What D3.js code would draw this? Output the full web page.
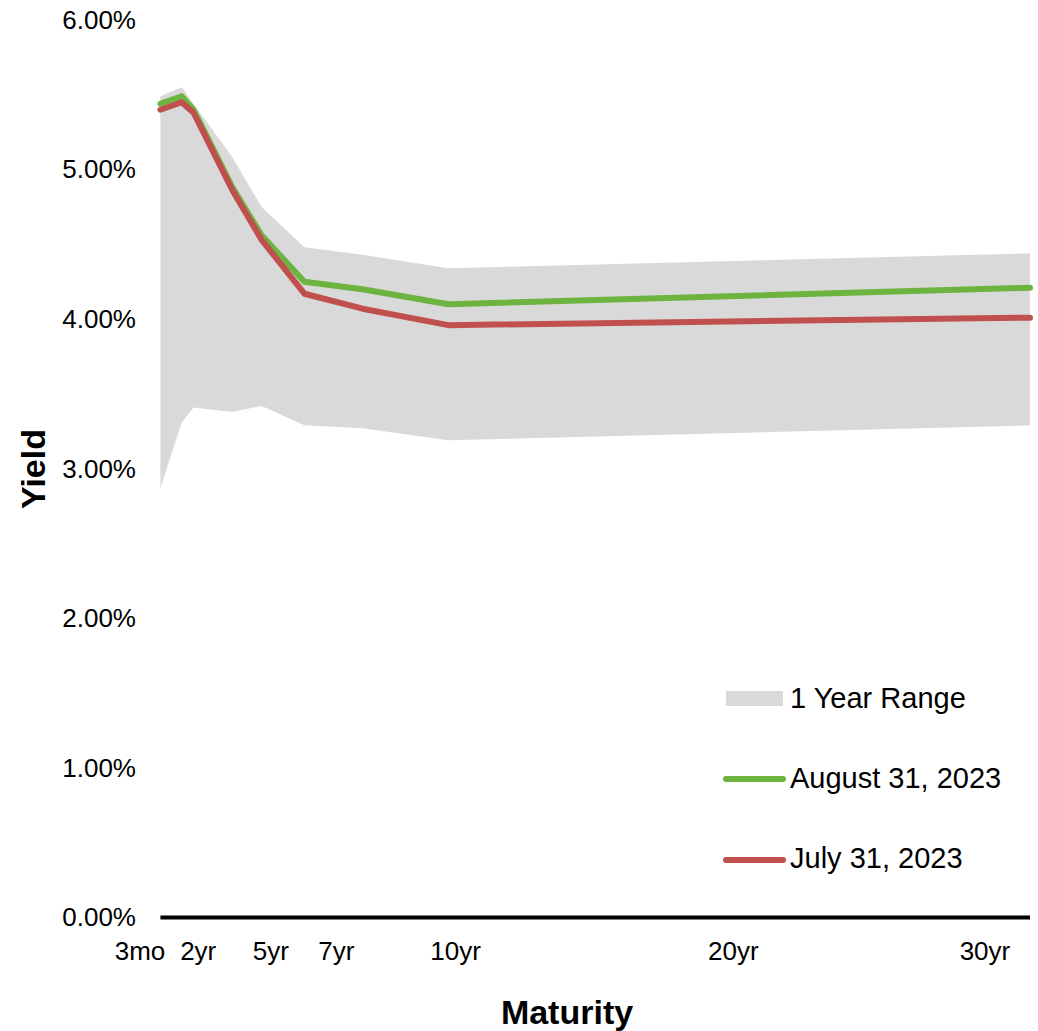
<!DOCTYPE html>
<html>
<head>
<meta charset="utf-8">
<script src="https://cdn.jsdelivr.net/npm/d3@7"></script>
<style>
  body { margin: 0; background: #fff; }
  text { font-family: Arial, "Liberation Sans", sans-serif; fill: #000; }
</style>
</head>
<body>
<svg></svg>
<script>
const size = {w: 1038, h: 1031};
const svg = d3.select('svg');

svg.attr('width', size.w)
    .attr('height', size.h);

// maturity of each curve point, in years
const maturities = [0.1, 0.83, 1.24, 2.58, 3.58, 5.05, 7.05, 10, 30];
// 1 year range, high and low yields (%)
const rangeHigh = [5.49, 5.55, 5.44, 5.08, 4.75, 4.48, 4.43, 4.34, 4.44];
const rangeLow = [2.87, 3.31, 3.41, 3.38, 3.42, 3.29, 3.27, 3.19, 3.29];
// curves (%)
const aug2023 = [5.44, 5.49, 5.40, 4.88, 4.56, 4.25, 4.20, 4.10, 4.21];
const jul2023 = [5.40, 5.45, 5.38, 4.86, 4.53, 4.17, 4.07, 3.96, 4.01];

// maturity labels and where they sit along the axis
const tickLabels = ['3mo', '2yr', '5yr', '7yr', '10yr', '20yr', '30yr'];
const tickAt = [-0.6, 1.4, 3.9, 6.15, 10.25, 19.8, 28.45];
const yTicks = [0, 1, 2, 3, 4, 5, 6];

const legendNames = ['1 Year Range', 'August 31, 2023', 'July 31, 2023'];

// scales
let x = d3.scaleLinear().domain([0, 30]).range([157.5, 1030]);
let y = d3.scaleLinear().domain([0, 6]).range([917.5, 20]);

// shaded range
let area = d3.area()
    .x((d, i) => x(maturities[i]))
    .y0((d, i) => y(rangeLow[i]))
    .y1(d => y(d));

svg.append('path')
    .datum(rangeHigh)
    .attr('d', area)
    .attr('fill', '#d9d9d9');

// curves
let line = d3.line()
    .x((d, i) => x(maturities[i]))
    .y(d => y(d));

let curves = [
    {values: aug2023, color: '#6cb33f'},
    {values: jul2023, color: '#c0504d'}
];

svg.selectAll('path.curve')
    .data(curves)
    .join('path')
    .classed('curve', true)
    .attr('d', d => line(d.values))
    .attr('fill', 'none')
    .attr('stroke', d => d.color)
    .attr('stroke-width', 6)
    .attr('stroke-linejoin', 'round')
    .attr('stroke-linecap', 'round');

// y axis labels
let yAxis = d3.axisLeft(y)
    .tickValues(yTicks)
    .tickSize(0)
    .tickPadding(0)
    .tickFormat(d => d.toFixed(2) + '%');

let yAxisG = svg.append('g')
    .attr('transform', 'translate(136,0)')
    .call(yAxis);
yAxisG.select('.domain').remove();
yAxisG.selectAll('text')
    .attr('font-size', 26)
    .attr('font-family', 'Arial, "Liberation Sans", sans-serif')
    .attr('fill', '#000');

// x axis line
svg.append('line')
    .attr('x1', x(0.1))
    .attr('x2', x(30))
    .attr('y1', y(0))
    .attr('y2', y(0))
    .attr('stroke', '#000')
    .attr('stroke-width', 4);

// x labels
svg.selectAll('text.xlab')
    .data(tickLabels)
    .join('text')
    .classed('xlab', true)
    .attr('x', (d, i) => x(tickAt[i]))
    .attr('y', 960)
    .attr('text-anchor', 'middle')
    .attr('font-size', 26)
    .text(d => d);

// axis titles
svg.append('text')
    .attr('x', 567)
    .attr('y', 1024)
    .attr('text-anchor', 'middle')
    .attr('font-size', 34)
    .attr('font-weight', 'bold')
    .text('Maturity');

svg.append('text')
    .attr('transform', 'translate(45,469) rotate(-90)')
    .attr('text-anchor', 'middle')
    .attr('font-size', 34)
    .attr('font-weight', 'bold')
    .text('Yield');

// legend
let legendG = svg.append('g').attr('transform', 'translate(726,0)');

legendG.append('rect')
    .attr('x', 0)
    .attr('y', 691)
    .attr('width', 57)
    .attr('height', 15)
    .attr('fill', '#d9d9d9');

legendG.selectAll('line')
    .data(curves)
    .join('line')
    .attr('x1', 0)
    .attr('x2', 57)
    .attr('y1', (d, i) => 779 + i * 81)
    .attr('y2', (d, i) => 779 + i * 81)
    .attr('stroke', d => d.color)
    .attr('stroke-width', 6)
    .attr('stroke-linecap', 'round');

legendG.selectAll('text')
    .data(legendNames)
    .join('text')
    .attr('x', 64)
    .attr('y', (d, i) => 708 + i * 80)
    .attr('font-size', 29)
    .text(d => d);
</script>
</body>
</html>
